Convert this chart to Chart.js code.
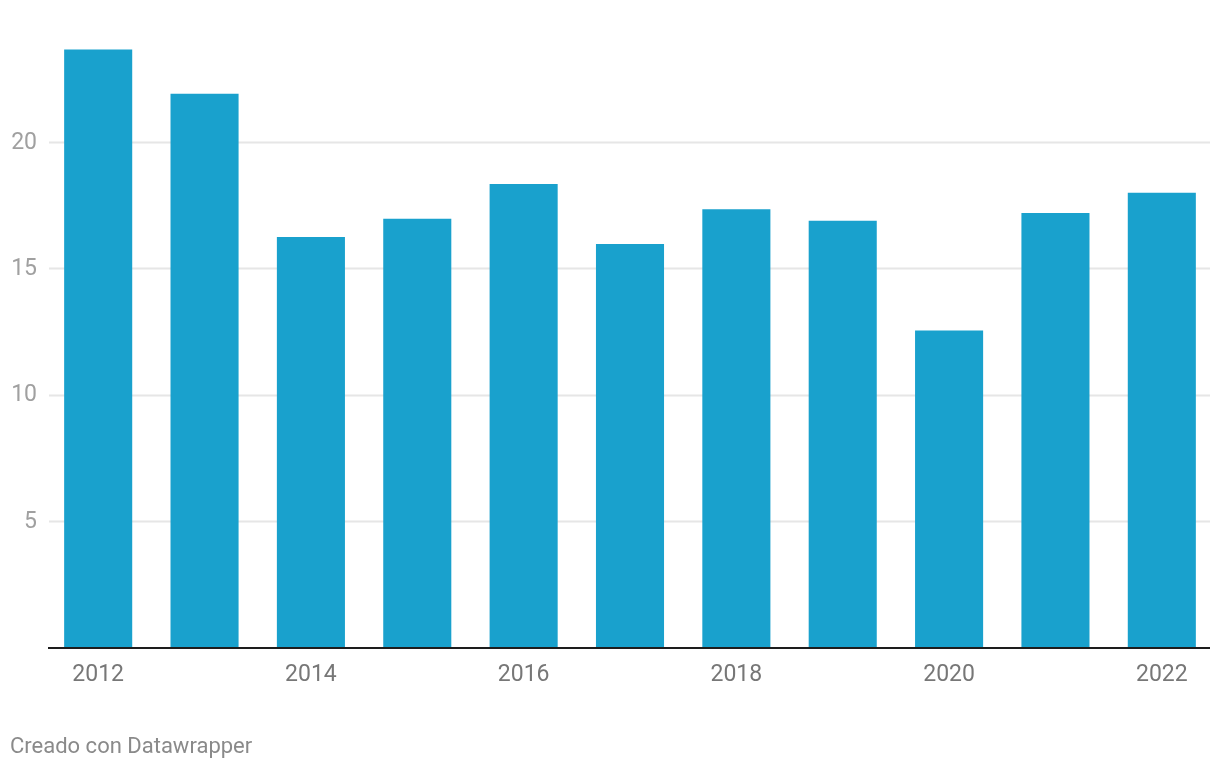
<!DOCTYPE html>
<html>
<head>
<meta charset="utf-8">
<script src="https://cdn.jsdelivr.net/npm/chart.js@4"></script>
<style>
  html, body { margin: 0; padding: 0; background: #fff; }
  #wrap { position: relative; width: 1220px; height: 770px; }
  #footer {
    position: absolute; left: 10px; top: 733px;
    font-family: Roboto, sans-serif; font-size: 22px; color: #8a8a8a;
  }
</style>
</head>
<body>
<div id="wrap">
  <canvas id="grafico"></canvas>
  <div id="footer">Creado con Datawrapper</div>
</div>
<script>
const years = ['2012', '2013', '2014', '2015', '2016', '2017', '2018', '2019', '2020', '2021', '2022']
const values = [23.7, 21.95, 16.28, 17.0, 18.38, 16.0, 17.38, 16.92, 12.57, 17.23, 18.03]
const yTicks = [5, 10, 15, 20]

// líneas de cuadrícula y línea base dibujadas a mano (más cortas que el área)
const lineasPlugin = {
    id: 'lineas',
    beforeDatasetsDraw(chart) {
        const ctx = chart.ctx
        const y = chart.scales.y
        ctx.save()
        ctx.strokeStyle = '#e6e6e6'
        ctx.lineWidth = 2
        yTicks.forEach(v => {
            const py = Math.round(y.getPixelForValue(v)) - 0.5
            ctx.beginPath()
            ctx.moveTo(49, py)
            ctx.lineTo(1210, py)
            ctx.stroke()
        })
        ctx.restore()
    },
    afterDatasetsDraw(chart) {
        const ctx = chart.ctx
        const py = chart.scales.y.getPixelForValue(0)
        ctx.save()
        ctx.strokeStyle = '#1d1d1d'
        ctx.lineWidth = 2
        ctx.beginPath()
        ctx.moveTo(48, py)
        ctx.lineTo(1210, py)
        ctx.stroke()
        ctx.restore()
    }
}

const ctx = document.querySelector('#grafico')
ctx.width = 1220
ctx.height = 770

new Chart(ctx, {
    type: 'bar',
    data: {
        labels: years,
        datasets: [{
            data: values,
            backgroundColor: '#19a1cd',
            borderWidth: 0,
            categoryPercentage: 1,
            barPercentage: 0.64
        }]
    },
    options: {
        responsive: false,
        animation: false,
        layout: { padding: { top: 9, right: 5, bottom: 72, left: 0 } },
        plugins: { legend: { display: false }, tooltip: { enabled: false } },
        scales: {
            x: {
                grid: { display: false, drawTicks: false },
                border: { display: false },
                ticks: {
                    autoSkip: false,
                    maxRotation: 0,
                    padding: 13,
                    color: '#777777',
                    font: { family: 'Roboto', size: 23 },
                    callback: (val, i) => i % 2 === 0 ? years[i] : ''
                },
                afterFit: (scale) => { scale.height = 50 }
            },
            y: {
                min: 0,
                max: 24.8,
                grid: { display: false, drawTicks: false },
                border: { display: false },
                ticks: {
                    stepSize: 5,
                    padding: 8,
                    color: '#a0a0a0',
                    font: { family: 'Roboto', size: 23 },
                    callback: (v) => yTicks.includes(v) ? v : ''
                },
                afterFit: (scale) => { scale.width = 45 }
            }
        }
    },
    plugins: [lineasPlugin]
})
</script>
</body>
</html>
